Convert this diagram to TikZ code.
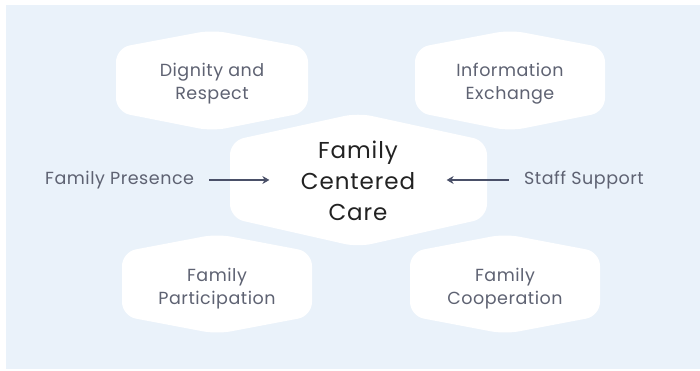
\documentclass[tikz,border=0pt]{standalone}
\usepackage{fontspec}
\setmainfont{Poppins}
\usetikzlibrary{arrows.meta}
\definecolor{bgblue}{HTML}{EAF2FA}
\definecolor{boxtext}{HTML}{5E6272}
\definecolor{arrcol}{HTML}{4A5068}
\definecolor{maintext}{HTML}{222222}
\tikzset{
  hexbox/.style={fill=white, rounded corners=14pt},
  lbl/.style={text=boxtext, font=\fontsize{17.5}{23}\selectfont\addfontfeatures{LetterSpace=3}, align=center},
  mainlbl/.style={text=maintext, font=\fontsize{23}{31}\selectfont\addfontfeatures{LetterSpace=4}, align=center},
  arr/.style={draw=arrcol, line width=2.2pt, -{Stealth[length=7pt,width=8pt]}}
}
\newcommand{\hexshape}[7]{% L R cx T S1 S2 B
  \fill[hexbox] (#2,{(#5+#6)/2}) -- (#2,#6) -- (#3,#7) -- (#1,#6) -- (#1,#5) -- (#3,#4) -- (#2,#5) -- cycle;}
\begin{document}
\begin{tikzpicture}[x=1pt,y=-1pt]
\useasboundingbox (0,0) rectangle (700,371);
\fill[bgblue] (6,5) rectangle (700,369);
\hexshape{116}{308}{212}{30}{48}{112}{131}
\hexshape{415}{605}{510}{30}{48}{112}{131}
\hexshape{122}{312}{217}{234}{252}{316}{334}
\hexshape{410}{600}{505}{234}{252}{316}{334}
\hexshape{230}{487}{358}{113}{141}{218}{247}
\node[lbl] (dig) at (212,84) {Dignity and\\Respect};
\node[lbl] (inf) at (510,84) {Information\\Exchange};
\node[lbl] (par) at (217,289) {Family\\Participation};
\node[lbl] (coo) at (505,289) {Family\\Cooperation};
\node[mainlbl] (ctr) at (358,181) {Family\\Centered\\Care};
\node[lbl, anchor=west, inner sep=0pt] (fp) at (45,180) {Family Presence};
\node[lbl, anchor=east, inner sep=0pt] (ss) at (644,180) {Staff Support};
\draw[arr] ([xshift=15pt]fp.east) -- ([xshift=-28pt]ctr.west |- fp.east);
\draw[arr] ([xshift=-15pt]ss.west) -- ([xshift=28pt]ctr.east |- ss.west);
\end{tikzpicture}
\end{document}
